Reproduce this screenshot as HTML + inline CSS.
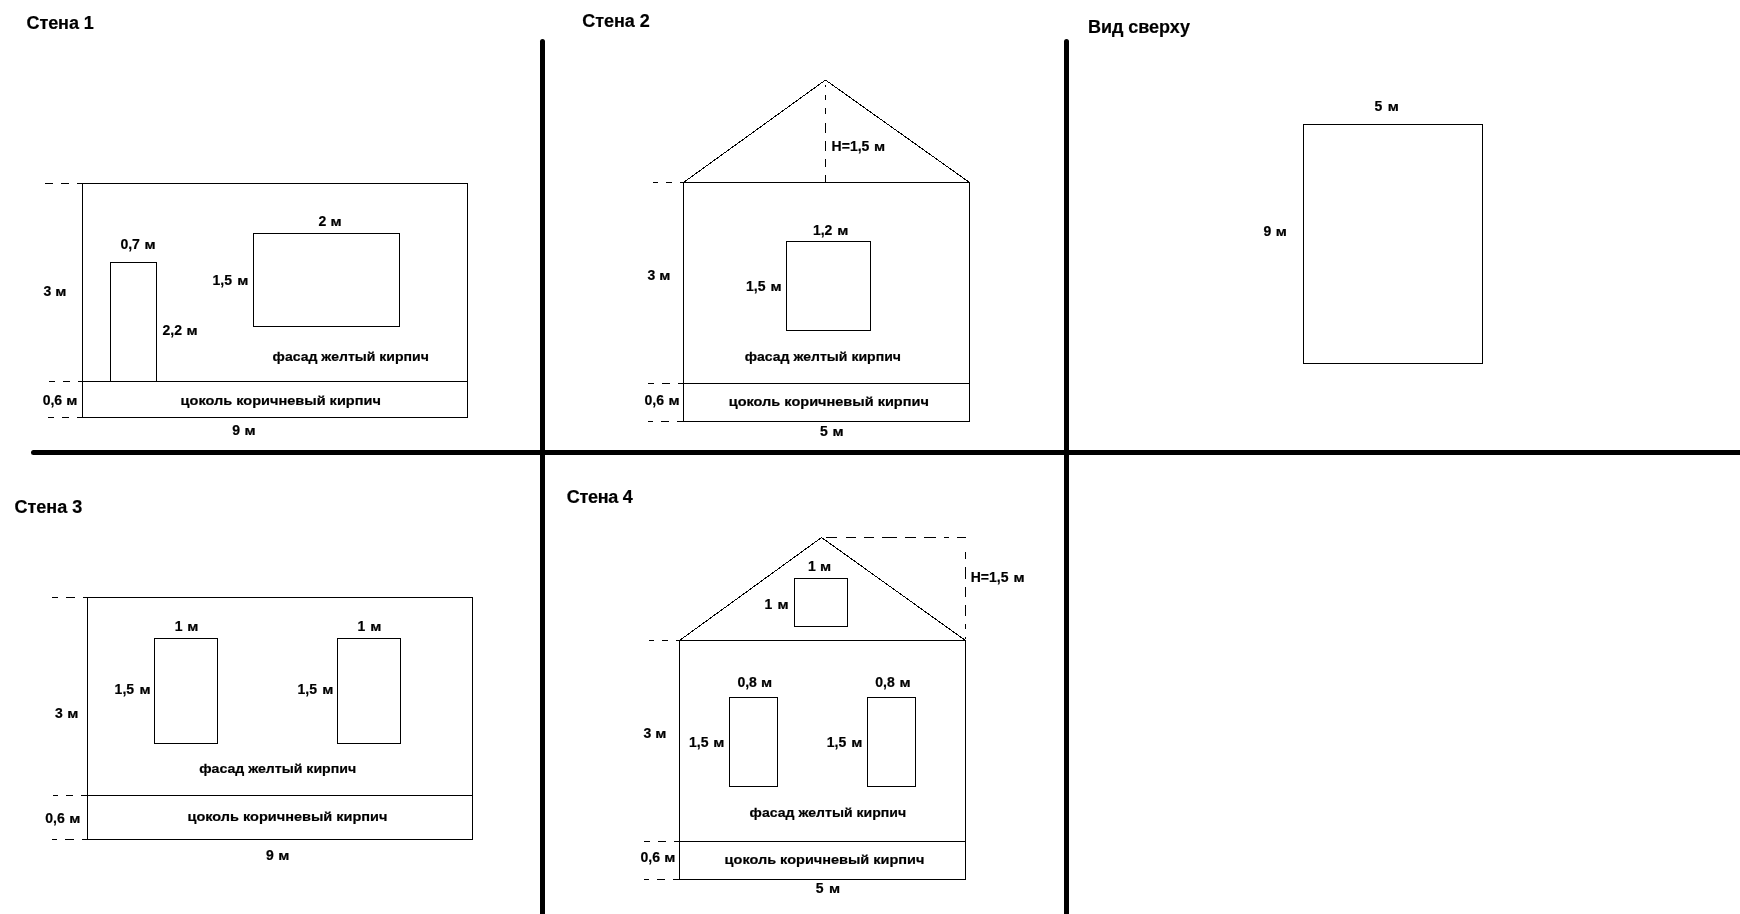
<!DOCTYPE html><html><head><meta charset="utf-8"><style>html,body{margin:0;padding:0;background:#fff;width:1740px;height:914px;overflow:hidden}svg{display:block;will-change:transform}text{font-family:"Liberation Sans",sans-serif;font-weight:bold;fill:#000;stroke:#000;stroke-width:0.2px}</style></head><body>
<svg width="1740" height="914" viewBox="0 0 1740 914">
<g shape-rendering="crispEdges" fill="#000">
<rect x="82" y="183" width="386" height="1"/>
<rect x="82" y="417" width="386" height="1"/>
<rect x="82" y="183" width="1" height="235"/>
<rect x="467" y="183" width="1" height="235"/>
<rect x="82" y="381" width="386" height="1"/>
<rect x="110" y="262" width="1" height="120"/>
<rect x="156" y="262" width="1" height="120"/>
<rect x="110" y="262" width="47" height="1"/>
<rect x="253" y="233" width="147" height="1"/>
<rect x="253" y="326" width="147" height="1"/>
<rect x="253" y="233" width="1" height="94"/>
<rect x="399" y="233" width="1" height="94"/>
<rect x="45" y="183" width="8" height="1"/>
<rect x="61" y="183" width="8" height="1"/>
<rect x="77" y="183" width="5" height="1"/>
<rect x="49" y="381" width="6" height="1"/>
<rect x="63" y="381" width="7" height="1"/>
<rect x="78" y="381" width="4" height="1"/>
<rect x="48" y="417" width="6" height="1"/>
<rect x="62" y="417" width="7" height="1"/>
<rect x="77" y="417" width="5" height="1"/>
<rect x="683" y="182" width="287" height="1"/>
<rect x="683" y="421" width="287" height="1"/>
<rect x="683" y="182" width="1" height="240"/>
<rect x="969" y="182" width="1" height="240"/>
<rect x="683" y="383" width="287" height="1"/>
<rect x="825" y="85" width="1" height="2"/>
<rect x="825" y="95" width="1" height="5"/>
<rect x="825" y="108" width="1" height="6"/>
<rect x="825" y="123" width="1" height="10"/>
<rect x="825" y="141" width="1" height="10"/>
<rect x="825" y="159" width="1" height="8"/>
<rect x="825" y="175" width="1" height="8"/>
<rect x="786" y="241" width="85" height="1"/>
<rect x="786" y="330" width="85" height="1"/>
<rect x="786" y="241" width="1" height="90"/>
<rect x="870" y="241" width="1" height="90"/>
<rect x="653" y="182" width="5" height="1"/>
<rect x="666" y="182" width="6" height="1"/>
<rect x="680" y="182" width="3" height="1"/>
<rect x="648" y="383" width="6" height="1"/>
<rect x="662" y="383" width="8" height="1"/>
<rect x="678" y="383" width="5" height="1"/>
<rect x="648" y="421" width="5" height="1"/>
<rect x="661" y="421" width="8" height="1"/>
<rect x="677" y="421" width="6" height="1"/>
<rect x="1303" y="124" width="180" height="1"/>
<rect x="1303" y="363" width="180" height="1"/>
<rect x="1303" y="124" width="1" height="240"/>
<rect x="1482" y="124" width="1" height="240"/>
<rect x="87" y="597" width="386" height="1"/>
<rect x="87" y="839" width="386" height="1"/>
<rect x="87" y="597" width="1" height="243"/>
<rect x="472" y="597" width="1" height="243"/>
<rect x="87" y="795" width="386" height="1"/>
<rect x="154" y="638" width="64" height="1"/>
<rect x="154" y="743" width="64" height="1"/>
<rect x="154" y="638" width="1" height="106"/>
<rect x="217" y="638" width="1" height="106"/>
<rect x="337" y="638" width="64" height="1"/>
<rect x="337" y="743" width="64" height="1"/>
<rect x="337" y="638" width="1" height="106"/>
<rect x="400" y="638" width="1" height="106"/>
<rect x="52" y="597" width="6" height="1"/>
<rect x="66" y="597" width="9" height="1"/>
<rect x="83" y="597" width="5" height="1"/>
<rect x="53" y="795" width="5" height="1"/>
<rect x="66" y="795" width="7" height="1"/>
<rect x="81" y="795" width="6" height="1"/>
<rect x="52" y="839" width="5" height="1"/>
<rect x="65" y="839" width="9" height="1"/>
<rect x="82" y="839" width="5" height="1"/>
<rect x="679" y="640" width="287" height="1"/>
<rect x="679" y="879" width="287" height="1"/>
<rect x="679" y="640" width="1" height="240"/>
<rect x="965" y="640" width="1" height="240"/>
<rect x="679" y="841" width="287" height="1"/>
<rect x="794" y="578" width="54" height="1"/>
<rect x="794" y="626" width="54" height="1"/>
<rect x="794" y="578" width="1" height="49"/>
<rect x="847" y="578" width="1" height="49"/>
<rect x="729" y="697" width="49" height="1"/>
<rect x="729" y="786" width="49" height="1"/>
<rect x="729" y="697" width="1" height="90"/>
<rect x="777" y="697" width="1" height="90"/>
<rect x="867" y="697" width="49" height="1"/>
<rect x="867" y="786" width="49" height="1"/>
<rect x="867" y="697" width="1" height="90"/>
<rect x="915" y="697" width="1" height="90"/>
<rect x="826" y="537" width="11" height="1"/>
<rect x="846" y="537" width="10" height="1"/>
<rect x="864" y="537" width="10" height="1"/>
<rect x="882" y="537" width="15" height="1"/>
<rect x="905" y="537" width="11" height="1"/>
<rect x="924" y="537" width="12" height="1"/>
<rect x="944" y="537" width="5" height="1"/>
<rect x="957" y="537" width="9" height="1"/>
<rect x="965" y="552" width="1" height="7"/>
<rect x="965" y="567" width="1" height="12"/>
<rect x="965" y="587" width="1" height="10"/>
<rect x="965" y="605" width="1" height="11"/>
<rect x="965" y="624" width="1" height="5"/>
<rect x="965" y="637" width="1" height="2"/>
<rect x="649" y="640" width="5" height="1"/>
<rect x="662" y="640" width="6" height="1"/>
<rect x="676" y="640" width="3" height="1"/>
<rect x="644" y="841" width="6" height="1"/>
<rect x="658" y="841" width="8" height="1"/>
<rect x="674" y="841" width="5" height="1"/>
<rect x="644" y="879" width="5" height="1"/>
<rect x="657" y="879" width="8" height="1"/>
<rect x="673" y="879" width="6" height="1"/>
</g><g stroke="#000" stroke-width="1" fill="none" shape-rendering="crispEdges">
<line x1="683.5" y1="182.5" x2="825.5" y2="80"/>
<line x1="825.5" y1="80" x2="969.5" y2="182.5"/>
<line x1="679.5" y1="640.5" x2="821.5" y2="537.5"/>
<line x1="821.5" y1="537.5" x2="965.5" y2="640.5"/>
</g><g stroke="#000" stroke-width="5" stroke-linecap="round">
<line x1="33.5" y1="452.5" x2="1745" y2="452.5"/>
<line x1="542.5" y1="41.5" x2="542.5" y2="919"/>
<line x1="1066.5" y1="41.5" x2="1066.5" y2="919"/>
</g>
<g>
<text x="26.6" y="29" font-size="18" letter-spacing="-0.1">Стена 1</text>
<text x="582.3" y="27" font-size="18" letter-spacing="-0.05">Стена 2</text>
<text x="1088" y="33.4" font-size="18" letter-spacing="-0.044">Вид сверху</text>
<text x="14.5" y="512.9" font-size="18" letter-spacing="0">Стена 3</text>
<text x="566.7" y="503.1" font-size="18" letter-spacing="-0.267">Стена 4</text>
<text x="120.4" y="249" font-size="14">0,7</text>
<text transform="translate(144.6,249) scale(1.25,1)" font-size="12">м</text>
<text x="43.5" y="295.7" font-size="14">3</text>
<text transform="translate(55.3,295.7) scale(1.25,1)" font-size="12">м</text>
<text x="162.5" y="334.8" font-size="14">2,2</text>
<text transform="translate(186.4,334.8) scale(1.25,1)" font-size="12">м</text>
<text x="212.5" y="285" font-size="14">1,5</text>
<text transform="translate(237.3,285) scale(1.25,1)" font-size="12">м</text>
<text x="318.4" y="225.7" font-size="14">2</text>
<text transform="translate(330.4,225.7) scale(1.25,1)" font-size="12">м</text>
<text transform="translate(272.6,361.3) scale(1.0826,1)" font-size="13">фасад желтый кирпич</text>
<text transform="translate(180.6,404.5) scale(1.1192,1)" font-size="13">цоколь коричневый кирпич</text>
<text x="42.7" y="404.7" font-size="14">0,6</text>
<text transform="translate(66.2,404.7) scale(1.25,1)" font-size="12">м</text>
<text x="232.3" y="434.8" font-size="14">9</text>
<text transform="translate(244.5,434.8) scale(1.25,1)" font-size="12">м</text>
<text x="831.6" y="150.5" font-size="14">H=1,5</text>
<text transform="translate(874,150.5) scale(1.25,1)" font-size="12">м</text>
<text x="812.9" y="234.7" font-size="14">1,2</text>
<text transform="translate(837.2,234.7) scale(1.25,1)" font-size="12">м</text>
<text x="647.6" y="279.6" font-size="14">3</text>
<text transform="translate(659.2,279.6) scale(1.25,1)" font-size="12">м</text>
<text x="746" y="290.7" font-size="14">1,5</text>
<text transform="translate(770.5,290.7) scale(1.25,1)" font-size="12">м</text>
<text transform="translate(744.7,360.7) scale(1.0819,1)" font-size="13">фасад желтый кирпич</text>
<text x="644.5" y="404.8" font-size="14">0,6</text>
<text transform="translate(668.4,404.8) scale(1.25,1)" font-size="12">м</text>
<text transform="translate(728.7,406.1) scale(1.1186,1)" font-size="13">цоколь коричневый кирпич</text>
<text x="819.9" y="435.6" font-size="14">5</text>
<text transform="translate(832.5,435.6) scale(1.25,1)" font-size="12">м</text>
<text x="1374.5" y="111.3" font-size="14">5</text>
<text transform="translate(1387.8,111.3) scale(1.25,1)" font-size="12">м</text>
<text x="1263.4" y="235.9" font-size="14">9</text>
<text transform="translate(1275.7,235.9) scale(1.25,1)" font-size="12">м</text>
<text x="174.7" y="630.9" font-size="14">1</text>
<text transform="translate(187.2,630.9) scale(1.25,1)" font-size="12">м</text>
<text x="357.6" y="630.9" font-size="14">1</text>
<text transform="translate(370.3,630.9) scale(1.25,1)" font-size="12">м</text>
<text x="114.6" y="694.2" font-size="14">1,5</text>
<text transform="translate(139.4,694.2) scale(1.25,1)" font-size="12">м</text>
<text x="297.5" y="693.6" font-size="14">1,5</text>
<text transform="translate(322.3,693.6) scale(1.25,1)" font-size="12">м</text>
<text x="55.1" y="718" font-size="14">3</text>
<text transform="translate(67.2,718) scale(1.25,1)" font-size="12">м</text>
<text transform="translate(199.2,773) scale(1.0868,1)" font-size="13">фасад желтый кирпич</text>
<text transform="translate(187.5,820.6) scale(1.1175,1)" font-size="13">цоколь коричневый кирпич</text>
<text x="45.3" y="823.3" font-size="14">0,6</text>
<text transform="translate(69.2,823.3) scale(1.25,1)" font-size="12">м</text>
<text x="266" y="859.8" font-size="14">9</text>
<text transform="translate(278.3,859.8) scale(1.25,1)" font-size="12">м</text>
<text x="807.9" y="570.5" font-size="14">1</text>
<text transform="translate(820.1,570.5) scale(1.25,1)" font-size="12">м</text>
<text x="764.5" y="608.8" font-size="14">1</text>
<text transform="translate(777.4,608.8) scale(1.25,1)" font-size="12">м</text>
<text x="970.7" y="581.9" font-size="14">H=1,5</text>
<text transform="translate(1013.4,581.9) scale(1.25,1)" font-size="12">м</text>
<text x="737.4" y="686.8" font-size="14">0,8</text>
<text transform="translate(761.1,686.8) scale(1.25,1)" font-size="12">м</text>
<text x="875.3" y="686.8" font-size="14">0,8</text>
<text transform="translate(899.4,686.8) scale(1.25,1)" font-size="12">м</text>
<text x="643.6" y="738" font-size="14">3</text>
<text transform="translate(655.2,738) scale(1.25,1)" font-size="12">м</text>
<text x="689" y="747" font-size="14">1,5</text>
<text transform="translate(713.3,747) scale(1.25,1)" font-size="12">м</text>
<text x="826.8" y="747.2" font-size="14">1,5</text>
<text transform="translate(851.3,747.2) scale(1.25,1)" font-size="12">м</text>
<text transform="translate(749.6,817) scale(1.0833,1)" font-size="13">фасад желтый кирпич</text>
<text transform="translate(724.6,864.3) scale(1.1169,1)" font-size="13">цоколь коричневый кирпич</text>
<text x="640.5" y="862.1" font-size="14">0,6</text>
<text transform="translate(664.3,862.1) scale(1.25,1)" font-size="12">м</text>
<text x="815.7" y="892.8" font-size="14">5</text>
<text transform="translate(828.9,892.8) scale(1.25,1)" font-size="12">м</text>
</g>
</svg></body></html>
